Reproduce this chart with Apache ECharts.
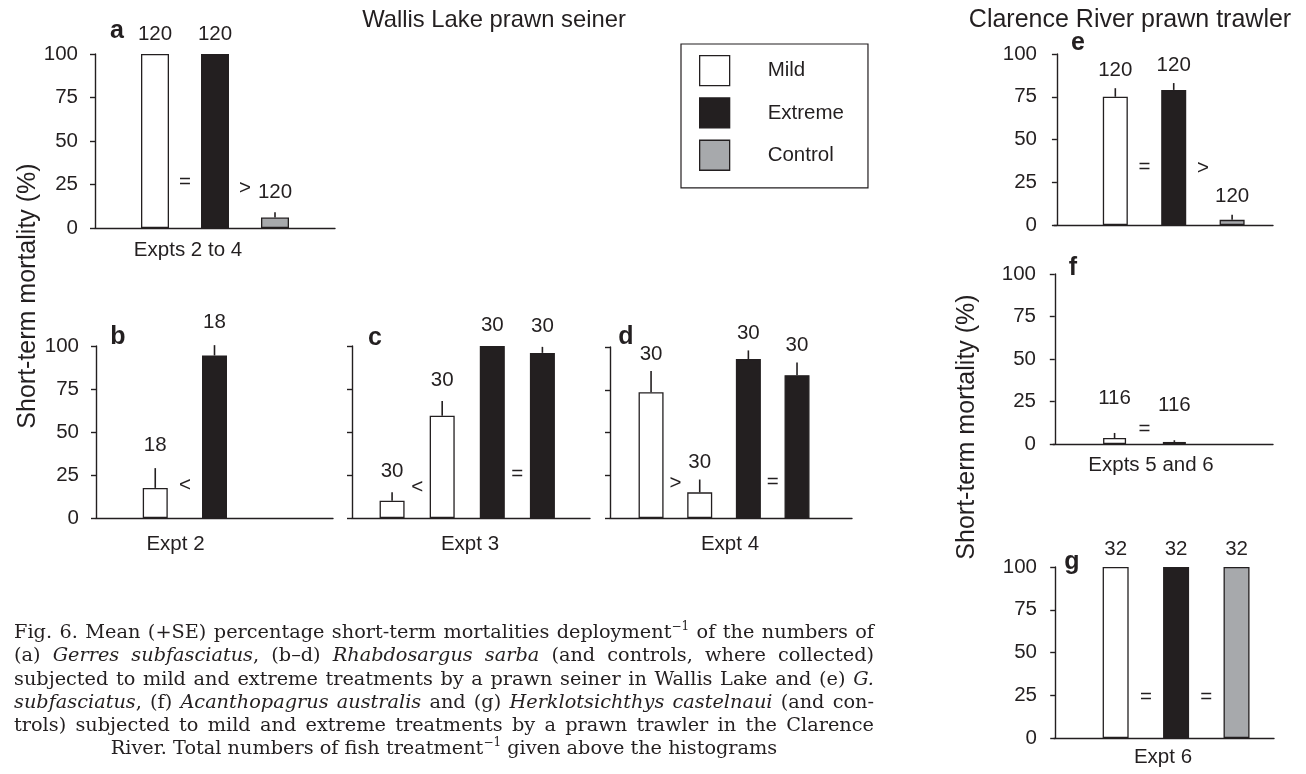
<!DOCTYPE html>
<html><head><meta charset="utf-8">
<script src="https://cdn.jsdelivr.net/npm/echarts@6/dist/echarts.min.js"></script>
<style>
html,body{margin:0;padding:0;background:#fff;}
#chart{position:absolute;left:0;top:0;width:1306px;height:774px;}
#caption{position:absolute;left:14px;top:620px;width:860px;font-family:'DejaVu Serif',serif;font-size:19.3px;line-height:23.3px;color:#231f20;}
#caption .l{text-align:justify;text-align-last:justify;white-space:nowrap;}
#caption .c{text-align:center;white-space:nowrap;}
#caption sup{font-size:12px;line-height:0;vertical-align:8px;}
</style></head>
<body>
<div id="chart"></div>
<div id="caption">
<div class="l">Fig. 6. Mean (+SE) percentage short-term mortalities deployment<sup>−1</sup> of the numbers of</div>
<div class="l">(a) <i>Gerres subfasciatus</i>, (b–d) <i>Rhabdosargus sarba</i> (and controls, where collected)</div>
<div class="l">subjected to mild and extreme treatments by a prawn seiner in Wallis Lake and (e) <i>G.</i></div>
<div class="l"><i>subfasciatus</i>, (f) <i>Acanthopagrus australis</i> and (g) <i>Herklotsichthys castelnaui</i> (and con-</div>
<div class="l">trols) subjected to mild and extreme treatments by a prawn trawler in the Clarence</div>
<div class="c">River. Total numbers of fish treatment<sup>−1</sup> given above the histograms</div>
</div>
<script>
// ---------- data ----------
const treatments = ['Mild', 'Extreme', 'Control'];
const yTicks = [0, 25, 50, 75, 100];

// a: Gerres subfasciatus, Wallis Lake, Expts 2 to 4
const aTreat = ['Mild', 'Extreme', 'Control'];
const aMean = [100, 100, 6];
const aSE = [0, 0, 3];
const aN = [120, 120, 120];
const aCmp = ['=', '>'];
// b: Expt 2
const bTreat = ['Mild', 'Extreme'];
const bMean = [17.5, 94.5];
const bSE = [11.5, 6];
const bN = [18, 18];
const bCmp = ['<'];
// c: Expt 3
const cTreat = ['Mild', 'Mild', 'Extreme', 'Extreme'];
const cMean = [10, 59.5, 100, 96];
const cSE = [5, 8.5, 0, 3.5];
const cN = [30, 30, 30, 30];
const cCmp = ['<', '', '='];
// d: Expt 4
const dTreat = ['Mild', 'Mild', 'Extreme', 'Extreme'];
const dMean = [73.5, 15, 93, 83.5];
const dSE = [12.5, 7.5, 5, 7.5];
const dN = [30, 30, 30, 30];
const dCmp = ['>', '', '='];
// e: G. subfasciatus, Clarence River
const eTreat = ['Mild', 'Extreme', 'Control'];
const eMean = [75, 79, 3];
const eSE = [5, 4, 3];
const eN = [120, 120, 120];
const eCmp = ['=', '>'];
// f: Acanthopagrus australis, Expts 5 and 6
const fTreat = ['Mild', 'Extreme'];
const fMean = [3.5, 1.2];
const fSE = [3, 1];
const fN = [116, 116];
const fCmp = ['='];
// g: Herklotsichthys castelnaui, Expt 6
const gTreat = ['Mild', 'Extreme', 'Control'];
const gMean = [100, 100, 100];
const gSE = [0, 0, 0];
const gN = [32, 32, 32];
const gCmp = ['=', '='];

// ---------- styling / layout ----------
const INK = '#231f20';
const SANS = '"Liberation Sans", Arial, Helvetica, sans-serif';
const FS = 20.5;
const colors = { Mild: '#ffffff', Extreme: '#231f20', Control: '#a7a9ac' };

const panels = [
  { id: 'a', treat: aTreat, mean: aMean, se: aSE, n: aN, cmp: aCmp, name: 'Expts 2 to 4',
    grid: { left: 95, top: 54, width: 240, height: 174 }, xMin: 0, xMax: 4, barW: 28, yLab: true,
    nameGap: 12, nameShift: 27, labGap: 20, cmpY: [26, 23], letter: [117, 31] },
  { id: 'b', treat: bTreat, mean: bMean, se: bSE, n: bN, cmp: bCmp, name: 'Expt 2',
    grid: { left: 96, top: 346, width: 237, height: 172 }, xMin: 0, xMax: 4, barW: 25, yLab: true,
    nameGap: 16, nameShift: 39, labGap: 23, cmpY: [19], letter: [118, 337] },
  { id: 'c', treat: cTreat, mean: cMean, se: cSE, n: cN, cmp: cCmp, name: 'Expt 3',
    grid: { left: 352, top: 346, width: 238, height: 172 }, xMin: 0.2, xMax: 4.95, barW: 25, yLab: false,
    nameGap: 16, nameShift: 1, labGap: 21, cmpY: [18, 0, 25.5], letter: [375, 338] },
  { id: 'd', treat: dTreat, mean: dMean, se: dSE, n: dN, cmp: dCmp, name: 'Expt 4',
    grid: { left: 610, top: 347, width: 242, height: 171 }, xMin: 0.156, xMax: 5.13, barW: 25, yLab: false,
    nameGap: 16, nameShift: 1, labGap: 17, cmpY: [20, 0, 21], letter: [626, 337] },
  { id: 'e', treat: eTreat, mean: eMean, se: eSE, n: eN, cmp: eCmp, name: '',
    grid: { left: 1054, top: 54, width: 219, height: 171 }, xMin: -0.05, xMax: 3.7, barW: 25, yLab: true,
    nameGap: 12, nameShift: 0, labGap: 18, cmpY: [33.5, 33], letter: [1078, 43] },
  { id: 'f', treat: fTreat, mean: fMean, se: fSE, n: fN, cmp: fCmp, name: 'Expts 5 and 6',
    grid: { left: 1053, top: 274, width: 220, height: 170 }, xMin: -0.03, xMax: 3.65, barW: 23, yLab: true,
    nameGap: 11, nameShift: 12, labGap: 35, cmpY: [8.5], letter: [1073, 268] },
  { id: 'g', treat: gTreat, mean: gMean, se: gSE, n: gN, cmp: gCmp, name: 'Expt 6',
    grid: { left: 1054, top: 567, width: 220, height: 171 }, xMin: -0.02, xMax: 3.62, barW: 26, yLab: true,
    nameGap: 9, nameShift: 1, labGap: 18, cmpY: [23.5, 23.5], letter: [1072, 562] }
];

const grid = [], xAxis = [], yAxis = [], series = [], graphic = [];
const centered = { textAlign: 'center', textVerticalAlign: 'middle', align: 'center', verticalAlign: 'middle' };

panels.forEach((p, k) => {
  grid.push(Object.assign({ containLabel: false }, p.grid));
  xAxis.push({
    type: 'value', gridIndex: k, min: p.xMin, max: p.xMax,
    axisLine: { show: true, onZero: false, lineStyle: { color: INK, width: 1.4 } },
    axisTick: { show: false }, axisLabel: { show: false }, splitLine: { show: false },
    name: p.name, nameLocation: 'middle', nameGap: p.nameGap,
    nameTextStyle: { fontSize: FS, color: INK, fontFamily: SANS, padding: [0, 2 * p.nameShift, 0, 0] }
  });
  yAxis.push({
    type: 'value', gridIndex: k, min: yTicks[0], max: yTicks[yTicks.length - 1], interval: 25,
    axisLine: { show: true, lineStyle: { color: INK, width: 1.4 } },
    axisTick: { show: true, length: 5, lineStyle: { color: INK, width: 1.4 } },
    axisLabel: { show: p.yLab, fontSize: FS, color: INK, fontFamily: SANS, margin: 17 },
    splitLine: { show: false }
  });
  treatments.forEach(t => {
    const data = [];
    p.treat.forEach((tt, i) => { if (tt === t) data.push([i + 1, p.mean[i]]); });
    if (!data.length) return;
    series.push({
      type: 'bar', name: t, xAxisIndex: k, yAxisIndex: k, data, barWidth: p.barW, barGap: '-100%',
      itemStyle: { color: colors[t], borderColor: INK, borderWidth: 1.3 },
      emphasis: { disabled: true }, z: 2
    });
  });
  // error bars + sample size labels
  series.push({
    type: 'custom', xAxisIndex: k, yAxisIndex: k, clip: false, z: 5, silent: true,
    data: p.mean.map((m, i) => [i + 1, m, p.se[i], p.n[i]]),
    renderItem: (params, api) => {
      const x = api.value(0), m = api.value(1), se = api.value(2), n = api.value(3);
      const p0 = api.coord([x, m]), p1 = api.coord([x, m + se]);
      const ch = [];
      if (se > 0) ch.push({ type: 'line', shape: { x1: p0[0], y1: p0[1], x2: p1[0], y2: p1[1] },
        style: { stroke: INK, lineWidth: 1.6 } });
      ch.push({ type: 'text', style: Object.assign({ text: String(n), x: p1[0], y: p1[1] - p.labGap,
        fontSize: FS, fontFamily: SANS, fill: INK }, centered) });
      return { type: 'group', children: ch };
    }
  });
  // comparison symbols between adjacent bars
  const cmpData = [];
  p.cmp.forEach((s, i) => { if (s) cmpData.push([i + 1.5, p.cmpY[i], s]); });
  series.push({
    type: 'custom', xAxisIndex: k, yAxisIndex: k, clip: false, z: 5, silent: true,
    data: cmpData,
    renderItem: (params, api) => {
      const pt = api.coord([api.value(0), api.value(1)]);
      return { type: 'text', style: Object.assign({ text: cmpData[params.dataIndex][2], x: pt[0], y: pt[1],
        fontSize: FS, fontFamily: SANS, fill: INK }, centered) };
    }
  });
  graphic.push({ type: 'text', x: p.letter[0], y: p.letter[1],
    style: Object.assign({ text: p.id, font: 'bold 25px ' + SANS, fill: INK }, centered) });
});

graphic.push(
  { type: 'text', x: 494, y: 20, style: Object.assign({ text: 'Wallis Lake prawn seiner', font: '23.8px ' + SANS, fill: INK }, centered) },
  { type: 'text', x: 1130, y: 20, style: Object.assign({ text: 'Clarence River prawn trawler', font: '25px ' + SANS, fill: INK }, centered) },
  { type: 'text', x: 28, y: 296, rotation: Math.PI / 2, style: Object.assign({ text: 'Short-term mortality (%)', font: '25px ' + SANS, fill: INK }, centered) },
  { type: 'text', x: 967, y: 427, rotation: Math.PI / 2, style: Object.assign({ text: 'Short-term mortality (%)', font: '25px ' + SANS, fill: INK }, centered) }
);

const chart = echarts.init(document.getElementById('chart'), null, { renderer: 'canvas' });
chart.setOption({
  animation: false,
  backgroundColor: '#ffffff',
  grid, xAxis, yAxis, series, graphic,
  legend: {
    data: [
      { name: 'Mild', itemStyle: { color: colors.Mild, borderColor: INK, borderWidth: 1.3 } },
      { name: 'Extreme', itemStyle: { color: colors.Extreme, borderColor: INK, borderWidth: 1.3 } },
      { name: 'Control', itemStyle: { color: colors.Control, borderColor: INK, borderWidth: 1.3 } }
    ],
    orient: 'vertical', left: 681, top: 44, icon: 'rect', itemWidth: 30, itemHeight: 30, itemGap: 11,
    padding: [11, 24, 17, 18], borderColor: INK, borderWidth: 1.2, selectedMode: false,
    textStyle: { fontSize: FS, color: INK, fontFamily: SANS, padding: [0, 0, 0, 33] }
  }
});
</script>
</body></html>
